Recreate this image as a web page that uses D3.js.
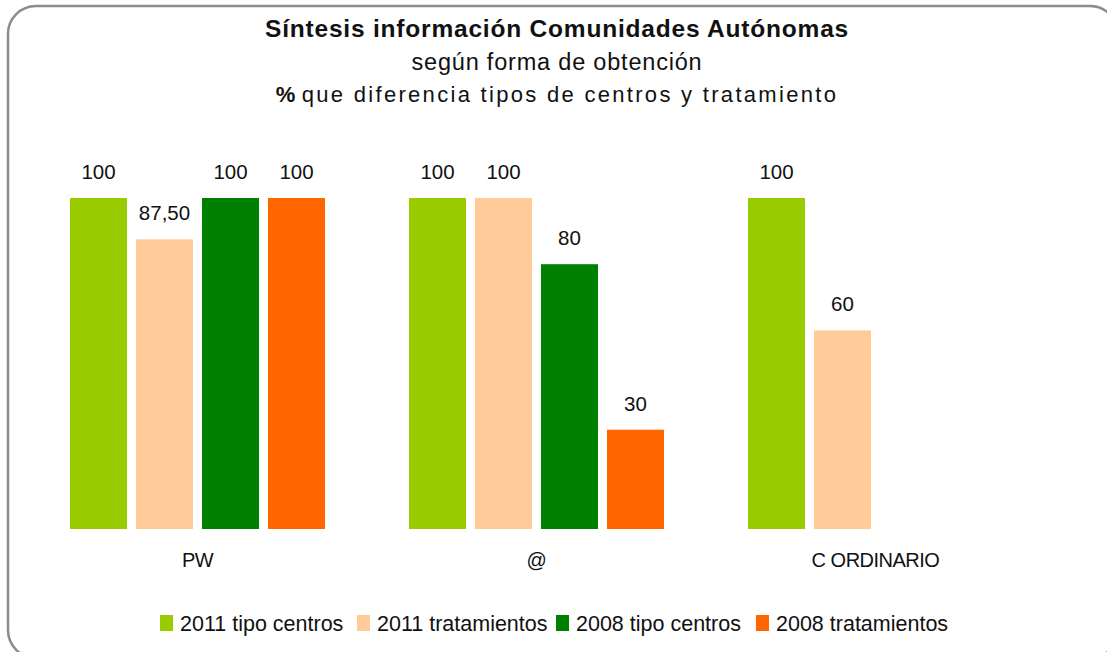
<!DOCTYPE html>
<html>
<head>
<meta charset="utf-8">
<script src="https://cdn.jsdelivr.net/npm/d3@7"></script>
<style>
  html, body { margin: 0; padding: 0; background: #fff; }
  svg { display: block; font-family: "Liberation Sans", Arial, sans-serif; }
</style>
</head>
<body>
<svg id="chart"></svg>
<script>
// data
const categories = ["PW", "@", "C ORDINARIO"];
const seriesNames = ["2011 tipo centros", "2011 tratamientos", "2008 tipo centros", "2008 tratamientos"];
const seriesColors = ["#99cc00", "#ffcc99", "#008000", "#ff6600"];
const tipoCentros2011 = [100, 100, 100];
const tratamientos2011 = [87.5, 100, 60];
const tipoCentros2008 = [100, 80, null];
const tratamientos2008 = [100, 30, null];
const seriesValues = [tipoCentros2011, tratamientos2011, tipoCentros2008, tratamientos2008];

const W = 1107, H = 652;
const svg = d3.select("#chart").attr("width", W).attr("height", H);

// frame with rounded corners and a dark shadow
svg.append("rect")
   .attr("x", 11).attr("y", 9).attr("width", 1110).attr("height", 652)
   .attr("rx", 28).attr("fill", "#000");
svg.append("rect")
   .attr("x", 8).attr("y", 6).attr("width", 1110).attr("height", 652)
   .attr("rx", 28).attr("fill", "#fff")
   .attr("stroke", "#8c8c8c").attr("stroke-width", 2.5);

// titles
svg.append("text")
   .attr("x", 557).attr("y", 37).attr("text-anchor", "middle")
   .attr("font-size", 24.5).attr("font-weight", "bold").attr("letter-spacing", 0.8)
   .attr("fill", "#111")
   .text("Síntesis información Comunidades Autónomas");
svg.append("text")
   .attr("x", 557).attr("y", 70).attr("text-anchor", "middle")
   .attr("font-size", 23.5).attr("letter-spacing", 0.8).attr("fill", "#111")
   .text("según forma de obtención");
const sub = svg.append("text")
   .attr("x", 557).attr("y", 102).attr("text-anchor", "middle")
   .attr("font-size", 22).attr("fill", "#111");
sub.append("tspan").attr("font-weight", "bold").text("%");
sub.append("tspan").attr("dx", -2).attr("letter-spacing", 2.3).text(" que diferencia tipos de centros y tratamiento");

// scales
const x0 = d3.scaleBand().domain(categories).range([28, 1045]);
const x1 = d3.scaleBand().domain(seriesNames).range([42, 297]).paddingInner(0.1364);
const y = d3.scaleLinear().domain([0, 100]).range([529, 198]);

const fmt = v => Number.isInteger(v) ? String(v) : v.toFixed(2).replace(".", ",");

const groups = svg.selectAll("g.cat")
   .data(categories)
   .join("g")
   .attr("class", "cat")
   .attr("transform", d => `translate(${x0(d)},0)`);

groups.each(function(cat, ci) {
  const g = d3.select(this);
  const pts = seriesNames
     .map((s, si) => ({ s, si, v: seriesValues[si][ci] }))
     .filter(p => p.v != null);
  g.selectAll("rect")
   .data(pts)
   .join("rect")
   .attr("x", p => x1(p.s))
   .attr("width", x1.bandwidth())
   .attr("y", p => y(p.v))
   .attr("height", p => y(0) - y(p.v))
   .attr("fill", p => seriesColors[p.si]);
  g.selectAll("text.val")
   .data(pts)
   .join("text")
   .attr("class", "val")
   .attr("x", p => x1(p.s) + x1.bandwidth() / 2)
   .attr("y", p => y(p.v) - 19)
   .attr("text-anchor", "middle")
   .attr("font-size", 20.5).attr("fill", "#111")
   .text(p => fmt(p.v));
});

// category axis labels (no axis line in the picture)
const xAxis = svg.append("g")
   .attr("transform", "translate(0,553)")
   .call(d3.axisBottom(x0).tickSize(0).tickPadding(0));
xAxis.select(".domain").remove();
xAxis.selectAll("text")
   .attr("font-family", "'Liberation Sans', Arial, sans-serif")
   .attr("font-size", 20).attr("letter-spacing", -0.5).attr("fill", "#111");

// legend
const legendX = [160, 357, 556, 756];
const legend = svg.append("g").attr("transform", "translate(0,623)");
const li = legend.selectAll("g")
   .data(seriesNames)
   .join("g")
   .attr("transform", (d, i) => `translate(${legendX[i]},0)`);
li.append("rect")
   .attr("x", 0).attr("y", -8).attr("width", 13).attr("height", 16)
   .attr("fill", (d, i) => seriesColors[i]);
li.append("text")
   .attr("x", 20).attr("y", 8)
   .attr("font-size", 21.5).attr("fill", "#111")
   .text(d => d);
</script>
</body>
</html>
